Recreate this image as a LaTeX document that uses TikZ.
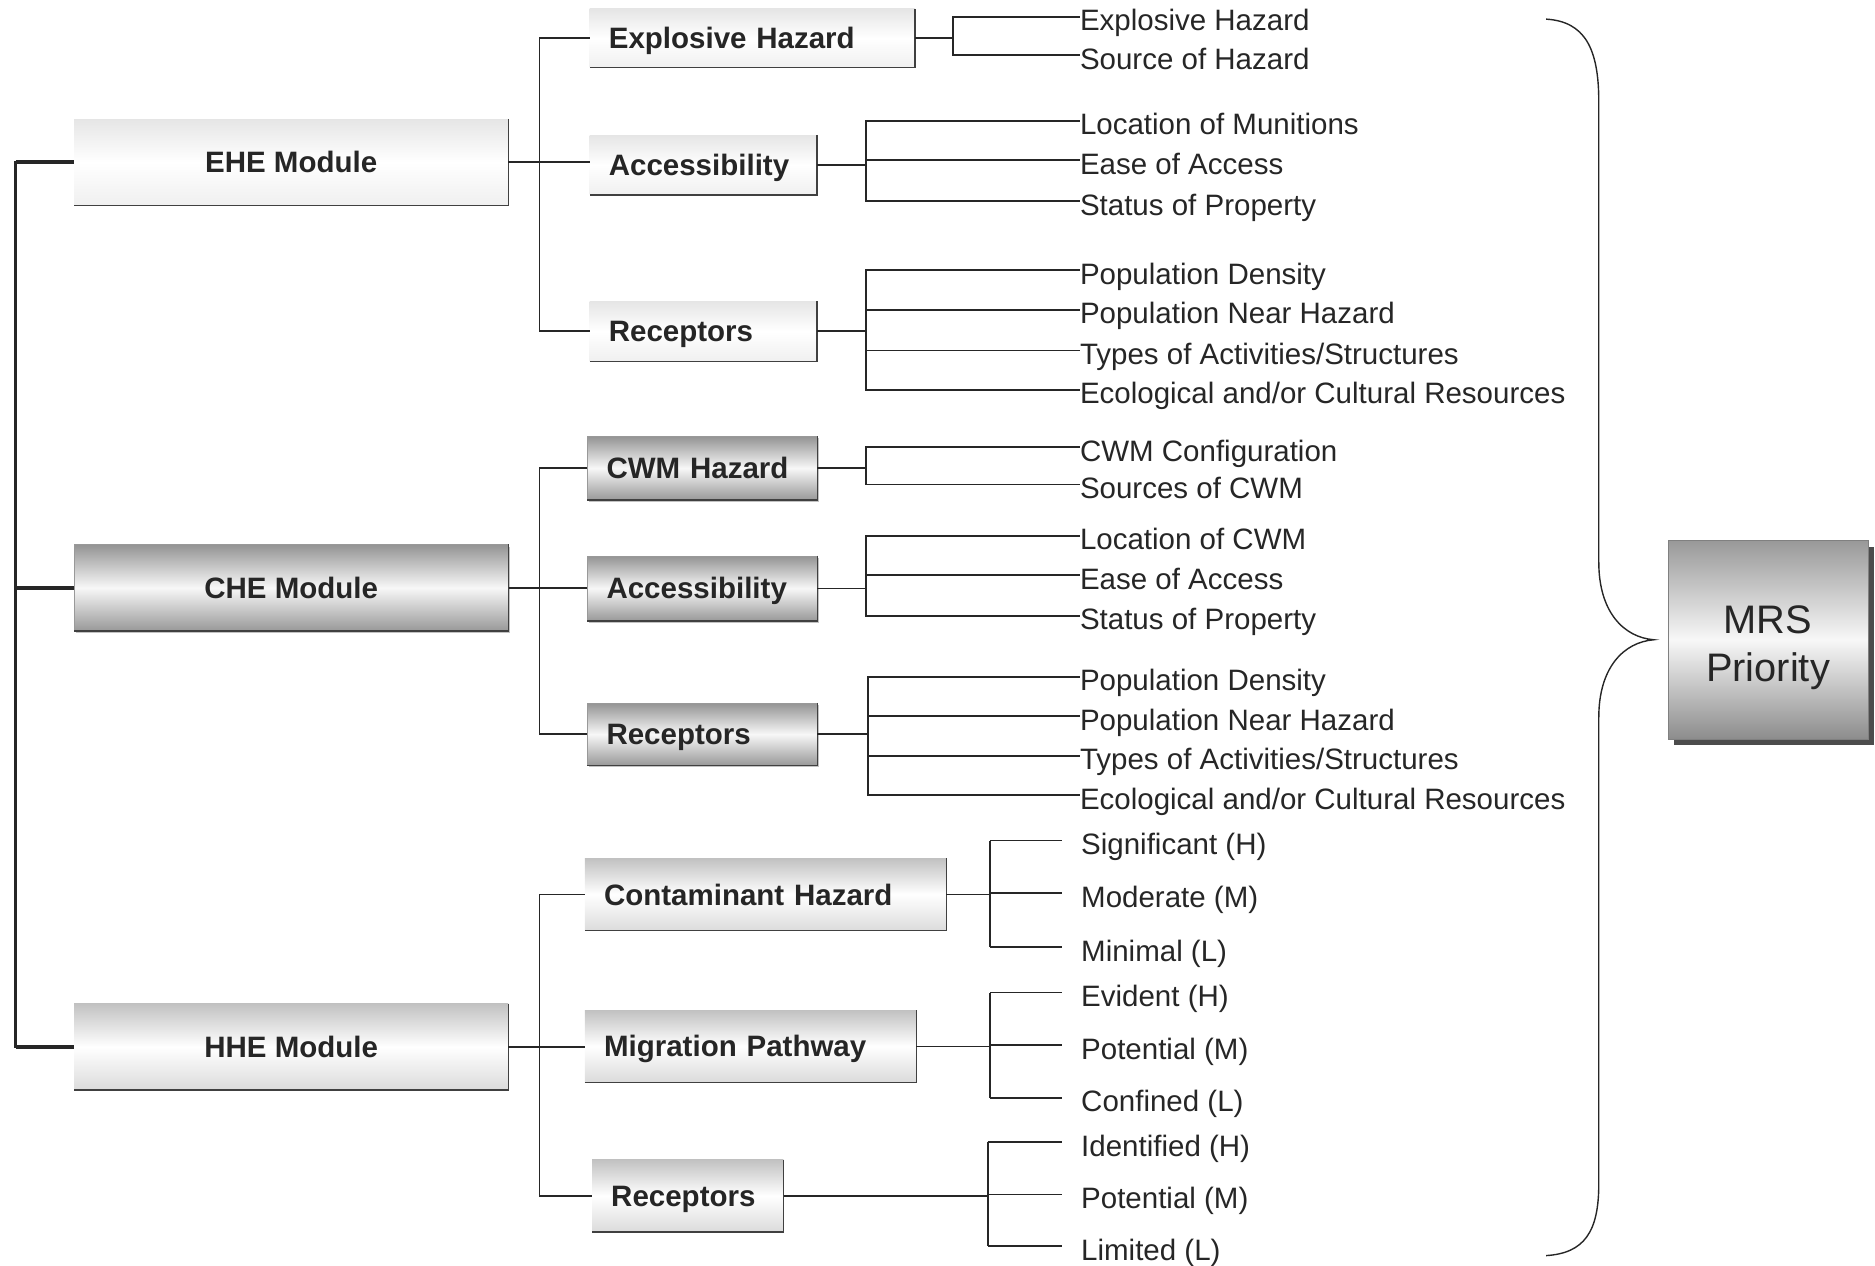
\documentclass[tikz,border=0pt]{standalone}
\usepackage{fontspec}
\setmainfont{Liberation Sans}
\usetikzlibrary{shadows}
\definecolor{ink}{HTML}{262626}
\begin{document}
\begin{tikzpicture}[x=1.1958pt, y=-1.1958pt,
  conn/.style={draw=ink, line width=1.6pt},
  lbl/.style={font=\bfseries\fontsize{29.5}{35}\selectfont, text=ink, text height=21.1pt, text depth=0pt},
  modbox/.style={lbl, minimum width=434.1pt, minimum height=86pt, inner sep=0pt},
  subbox/.style={lbl, anchor=west, inner xsep=19.1pt, inner ysep=0pt, align=left},
  faint/.style={top color=black!10, bottom color=black!6, middle color=white},
  medium/.style={top color=black!24, bottom color=black!14, middle color=white},
  strong/.style={top color=black!42, bottom color=black!40, middle color=black!3, draw=black!40, line width=0.6pt, drop shadow={shadow xshift=2pt, shadow yshift=-2pt, fill=black!40, opacity=0.6}},
  leaf/.style={anchor=west, inner sep=0pt, text height=28.3pt, text depth=0pt, text=ink, font=\fontsize{29.5}{35}\selectfont},
  edgeline/.style={draw=black!75, line width=1.4pt},
]
\useasboundingbox (0,0) rectangle (1568,1058);

% module boxes
\node[modbox, faint]  (ehe) at (243.5,135.5) {EHE Module};
\node[modbox, strong] (che) at (243.5,491.5) {CHE Module};
\node[modbox, medium] (hhe) at (243.5,875.5) {HHE Module};

% sub boxes
\node[subbox, faint, text width=287pt, minimum height=58.6pt]    (eh)   at (493,32)    {Explosive Hazard};
\node[subbox, faint, text width=188.9pt, minimum height=59.8pt]  (acc1) at (493,138)   {Accessibility};
\node[subbox, faint, text width=188.9pt, minimum height=59.8pt]  (rec1) at (493,277)   {Receptors};
\node[subbox, strong, text width=191.3pt, minimum height=63.4pt] (cwm)  at (491,391.5) {CWM Hazard};
\node[subbox, strong, text width=191.3pt, minimum height=64.6pt] (acc2) at (491,492)   {Accessibility};
\node[subbox, strong, text width=191.3pt, minimum height=62.2pt] (rec2) at (491,614)   {Receptors};
\node[subbox, medium, text width=322.9pt, minimum height=71.7pt] (con)  at (489,748)   {Contaminant Hazard};
\node[subbox, medium, text width=293pt, minimum height=71.7pt]   (mig)  at (489,875)   {Migration Pathway};
\node[subbox, medium, text width=153.1pt, minimum height=71.7pt] (rec3) at (495,1000)  {Receptors};

\foreach \n in {ehe,che,hhe,eh,acc1,rec1,cwm,acc2,rec2,con,mig,rec3}
  \draw[edgeline] (\n.north east) -- (\n.south east) -- (\n.south west);

% leaves
\node[leaf] (l1a) at (903,14)  {Explosive Hazard};
\node[leaf] (l1b) at (903,46)  {Source of Hazard};
\node[leaf] (l2a) at (903,101) {Location of Munitions};
\node[leaf] (l2b) at (903,134) {Ease of Access};
\node[leaf] (l2c) at (903,168) {Status of Property};
\node[leaf] (l3a) at (903,226) {Population Density};
\node[leaf] (l3b) at (903,259) {Population Near Hazard};
\node[leaf] (l3c) at (903,293) {Types of Activities/Structures};
\node[leaf] (l3d) at (903,326) {Ecological and/or Cultural Resources};
\node[leaf] (l4a) at (903,374) {CWM Configuration};
\node[leaf] (l4b) at (903,405) {Sources of CWM};
\node[leaf] (l5a) at (903,448) {Location of CWM};
\node[leaf] (l5b) at (903,481) {Ease of Access};
\node[leaf] (l5c) at (903,515) {Status of Property};
\node[leaf] (l6a) at (903,566) {Population Density};
\node[leaf] (l6b) at (903,599) {Population Near Hazard};
\node[leaf] (l6c) at (903,632) {Types of Activities/Structures};
\node[leaf] (l6d) at (903,665) {Ecological and/or Cultural Resources};
\node[leaf] (l7a) at (904,703) {Significant (H)};
\node[leaf] (l7b) at (904,747) {Moderate (M)};
\node[leaf] (l7c) at (904,792) {Minimal (L)};
\node[leaf] (l8a) at (904,830) {Evident (H)};
\node[leaf] (l8b) at (904,874) {Potential (M)};
\node[leaf] (l8c) at (904,918) {Confined (L)};
\node[leaf] (l9a) at (904,955) {Identified (H)};
\node[leaf] (l9b) at (904,999) {Potential (M)};
\node[leaf] (l9c) at (904,1042) {Limited (L)};

% MRS priority
\node[draw=black!50, line width=0.6pt, top color=black!40, bottom color=black!45, middle color=black!3,
  minimum width=199.7pt, minimum height=198.5pt, align=center, text=ink,
  font=\fontsize{39.8}{47.8}\selectfont,
  drop shadow={shadow xshift=6pt, shadow yshift=-6pt, fill=black!70, opacity=1}]
  (mrs) at (1478.5,535) {\rule{0pt}{43pt}MRS\\Priority};

% left bar
\coordinate (lb) at (13,0);
\draw[ink, line width=2.8pt] (ehe.west) -- (ehe.west -| lb) -- (hhe.west -| lb) -- (hhe.west);
\foreach \n in {ehe,che,hhe}
  \draw[ink, line width=4.2pt] (\n.west -| lb) -- (\n.west);

% module to sub boxes
\coordinate (m1) at (451,0);
\draw[conn] (eh.west) -- (eh.west -| m1) -- (rec1.west -| m1) -- (rec1.west);
\draw[conn] (ehe.east) -- (ehe.east -| acc1.west);
\draw[conn] (cwm.west) -- (cwm.west -| m1) -- (rec2.west -| m1) -- (rec2.west);
\draw[conn] (che.east) -- (che.east -| acc2.west);
\draw[conn] (con.west) -- (con.west -| m1) -- (rec3.west -| m1) -- (rec3.west);
\draw[conn] (hhe.east) -- (hhe.east -| mig.west);

% sub boxes to leaves
\coordinate (k1) at (797,0);
\draw[conn] (eh.east) -- (eh.east -| k1);
\draw[conn] (l1a.west) -- (l1a.west -| k1) -- (l1b.west -| k1) -- (l1b.west);

\coordinate (k2) at (724,0);
\draw[conn] (acc1.east) -- (acc1.east -| k2);
\draw[conn] (l2a.west) -- (l2a.west -| k2) -- (l2c.west -| k2) -- (l2c.west);
\draw[conn] (l2b.west -| k2) -- (l2b.west);

\coordinate (k3) at (724,0);
\draw[conn] (rec1.east) -- (rec1.east -| k3);
\draw[conn] (l3a.west) -- (l3a.west -| k3) -- (l3d.west -| k3) -- (l3d.west);
\draw[conn] (l3b.west -| k3) -- (l3b.west);
\draw[conn] (l3c.west -| k3) -- (l3c.west);

\coordinate (k4) at (724,0);
\draw[conn] (cwm.east) -- (cwm.east -| k4);
\draw[conn] (l4a.west) -- (l4a.west -| k4) -- (l4b.west -| k4) -- (l4b.west);

\coordinate (k5) at (724,0);
\draw[conn] (acc2.east) -- (acc2.east -| k5);
\draw[conn] (l5a.west) -- (l5a.west -| k5) -- (l5c.west -| k5) -- (l5c.west);
\draw[conn] (l5b.west -| k5) -- (l5b.west);

\coordinate (k6) at (726,0);
\draw[conn] (rec2.east) -- (rec2.east -| k6);
\draw[conn] (l6a.west) -- (l6a.west -| k6) -- (l6d.west -| k6) -- (l6d.west);
\draw[conn] (l6b.west -| k6) -- (l6b.west);
\draw[conn] (l6c.west -| k6) -- (l6c.west);

\coordinate (k7) at (828,0);
\draw[conn] (con.east) -- (con.east -| k7);
\draw[conn] (l7a.west -| k7) -- (l7c.west -| k7);
\foreach \l in {l7a,l7b,l7c}
  \draw[conn, shorten >=19.1pt] (\l.west -| k7) -- (\l.west);

\coordinate (k8) at (828,0);
\draw[conn] (mig.east) -- (mig.east -| k8);
\draw[conn] (l8a.west -| k8) -- (l8c.west -| k8);
\foreach \l in {l8a,l8b,l8c}
  \draw[conn, shorten >=19.1pt] (\l.west -| k8) -- (\l.west);

\coordinate (k9) at (826,0);
\draw[conn] (rec3.east) -- (rec3.east -| k9);
\draw[conn] (l9a.west -| k9) -- (l9c.west -| k9);
\foreach \l in {l9a,l9b,l9c}
  \draw[conn, shorten >=19.1pt] (\l.west -| k9) -- (\l.west);

% brace
\draw[ink, line width=1.4pt] (1293,16) .. controls (1325,18) and (1337,40) .. (1337,85)
  -- (1337,470) .. controls (1337,512) and (1358,533) .. (1383,535)
  .. controls (1358,537) and (1337,558) .. (1337,600)
  -- (1337,990) .. controls (1337,1030) and (1325,1048) .. (1293,1050);
\end{tikzpicture}
\end{document}
